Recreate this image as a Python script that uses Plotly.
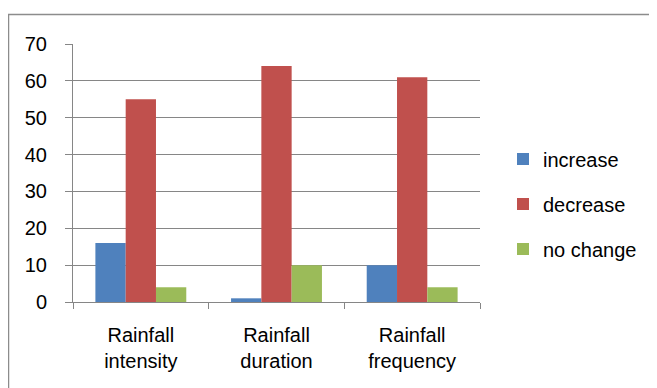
import plotly.graph_objects as go

categories = ["Rainfall<br>intensity", "Rainfall<br>duration", "Rainfall<br>frequency"]
series_names = ["increase", "decrease", "no change"]
increase = [16, 1, 10]
decrease = [55, 64, 61]
no_change = [4, 10, 4]
colors = ["#4F81BD", "#C0504D", "#9BBB59"]
y_ticks = [0, 10, 20, 30, 40, 50, 60, 70]

FONT = "Liberation Sans, Arial, sans-serif"
OFF = 8  # page body margin offset
W, H = 657, 388
# target pixel positions in the screenshot
PL, PR, PT, PB = 73, 480, 44, 302
L = PL - OFF
T = PT - OFF
R = W - (PR - OFF)
B = H - (PB - OFF)
pw = W - L - R
ph = H - T - B

def px_x(x):
    return (x - OFF - L) / pw

def px_y(y):
    return (H - B - (y - OFF)) / ph

fig = go.Figure()
for name, vals, col in zip(series_names, [increase, decrease, no_change], colors):
    fig.add_trace(go.Bar(
        x=categories, y=vals, name=name, legendgroup=name,
        marker=dict(color=col, line=dict(width=0)),
    ))

fig.update_layout(
    width=W, height=H,
    margin=dict(l=L, r=R, t=T, b=B, pad=0),
    paper_bgcolor="white", plot_bgcolor="white",
    barmode="group", bargap=0.33, bargroupgap=0,
    font=dict(family=FONT, size=20, color="#000000"),
    showlegend=True,
    legend=dict(
        x=px_x(503), xanchor="left", y=px_y(204), yanchor="middle",
        font=dict(family=FONT, size=20, color="#000000"),
        tracegroupgap=16, bgcolor="rgba(0,0,0,0)",
    ),
    xaxis=dict(
        showline=True, linecolor="#868686", linewidth=1,
        ticks="outside", tickson="boundaries", ticklen=6, tickcolor="#868686",
        showgrid=False, zeroline=False,
        tickfont=dict(family=FONT, size=20, color="#000000"),
        ticklabelstandoff=15,
    ),
    yaxis=dict(
        range=[0, 70], tickvals=y_ticks,
        showline=True, linecolor="#868686", linewidth=1,
        ticks="outside", ticklen=7, tickcolor="#868686",
        showgrid=True, gridcolor="#868686", gridwidth=1,
        zeroline=False,
        tickfont=dict(family=FONT, size=20, color="#000000"),
        ticklabelstandoff=14,
    ),
    shapes=[dict(
        type="rect", xref="paper", yref="paper",
        x0=px_x(8.5), x1=px_x(655.5), y0=px_y(14.5), y1=px_y(420),
        line=dict(color="#8C8C8C", width=1.5), fillcolor="rgba(0,0,0,0)",
        layer="below",
    )],
)

fig.write_html("out.html")
